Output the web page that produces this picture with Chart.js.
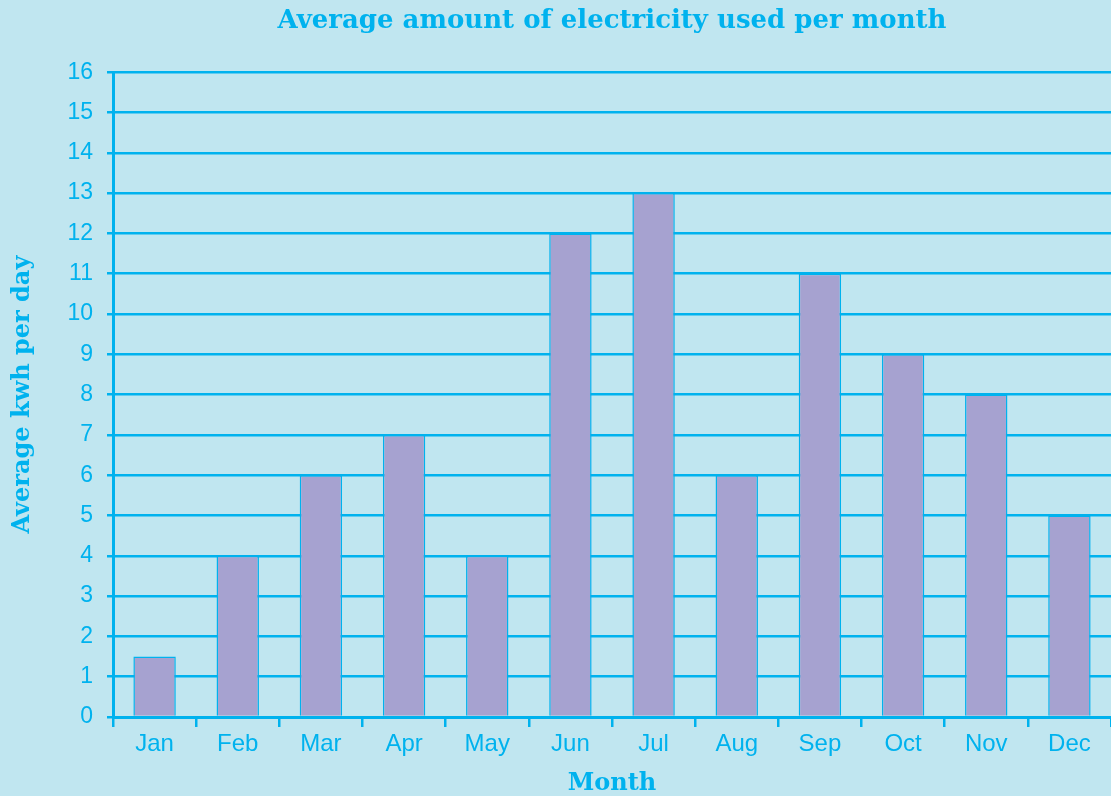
<!DOCTYPE html>
<html>
<head>
<meta charset="utf-8">
<script src="https://cdn.jsdelivr.net/npm/chart.js@4"></script>
<style>
  body { margin: 0; background: #c0e6f0; overflow: hidden; }
  #chart { display: block; }
</style>
</head>
<body>
<canvas id="chart" width="1111" height="796"></canvas>
<script>
const months = ['Jan', 'Feb', 'Mar', 'Apr', 'May', 'Jun', 'Jul', 'Aug', 'Sep', 'Oct', 'Nov', 'Dec'];
const kwhPerDay = [1.5, 4, 6, 7, 4, 12, 13, 6, 11, 9, 8, 5];

const cyan = '#00b2ee';
const serif = "'DejaVu Serif', 'Liberation Serif', serif";
const sans = "'Liberation Sans', Arial, sans-serif";

const ctx = document.getElementById('chart').getContext('2d');

new Chart(ctx, {
  type: 'bar',
  data: {
    labels: months,
    datasets: [
      {
        data: kwhPerDay,
        backgroundColor: '#a6a2d0',
        borderColor: cyan,
        borderWidth: 1.5,
        barPercentage: 0.51,
        categoryPercentage: 1,
      },
    ],
  },
  options: {
    responsive: false,
    animation: false,
    // plot runs a little past the right edge in the original
    layout: { padding: { left: 0, top: 0, bottom: 0, right: -6 } },
    plugins: {
      legend: { display: false },
      tooltip: { enabled: false },
      title: {
        display: true,
        text: 'Average amount of electricity used per month',
        color: cyan,
        fullSize: false,
        font: { family: serif, size: 26, weight: 'bold', lineHeight: 1.2 },
        padding: { top: 6, bottom: 35 },
      },
    },
    scales: {
      x: {
        offset: true,
        grid: {
          offset: true,
          drawOnChartArea: false,
          drawTicks: true,
          tickLength: 10,
          color: cyan,
          lineWidth: 2.5,
        },
        border: { color: cyan, width: 3 },
        ticks: {
          color: cyan,
          font: { family: sans, size: 24 },
          padding: 3,
          maxRotation: 0,
        },
        title: {
          display: true,
          text: 'Month',
          color: cyan,
          font: { family: serif, size: 24, weight: 'bold', lineHeight: 1 },
          padding: 0,
        },
        afterFit: scale => { scale.height = 79; },
      },
      y: {
        min: 0,
        max: 16,
        grid: {
          color: cyan,
          lineWidth: 2.5,
          tickLength: 6,
        },
        border: { color: cyan, width: 3 },
        ticks: {
          stepSize: 1,
          color: cyan,
          font: { family: sans, size: 23 },
          padding: 14,
        },
        title: {
          display: true,
          text: 'Average kwh per day',
          color: cyan,
          font: { family: serif, size: 24, weight: 'bold', lineHeight: 1.2 },
          padding: { top: 8, bottom: 0 },
        },
        afterFit: scale => { scale.width = 113; },
      },
    },
  },
});
</script>
</body>
</html>
